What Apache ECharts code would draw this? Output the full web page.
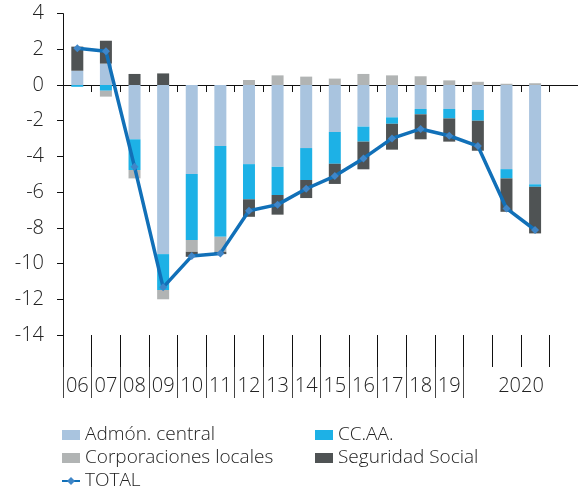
<!DOCTYPE html>
<html>
<head>
<meta charset="utf-8">
<script src="https://cdn.jsdelivr.net/npm/echarts@6/dist/echarts.min.js"></script>
<style>
  html, body { margin: 0; padding: 0; background: #fff; }
  #chart { width: 578px; height: 494px; }
</style>
</head>
<body>
<div id="chart"></div>
<script>
// categories (last slot is empty space at the right edge)
var categories = ['06', '07', '08', '09', '10', '11', '12', '13', '14', '15', '16', '17', '18', '19', '', '2020', '', ''];

// % PIB por subsector
var central = [0.8, 1.2, -3.04, -9.47, -4.99, -3.42, -4.43, -4.58, -3.53, -2.63, -2.33, -1.81, -1.34, -1.34, -1.40, -4.71, -5.56];
var ccaa = [-0.1, -0.32, -1.72, -2.01, -3.69, -5.08, -1.97, -1.58, -1.79, -1.78, -0.84, -0.36, -0.30, -0.53, -0.60, -0.52, -0.14];
var locales = [0, -0.33, -0.47, -0.52, -0.66, -0.84, 0.28, 0.54, 0.47, 0.36, 0.62, 0.54, 0.49, 0.26, 0.18, 0.07, 0.10];
var seguridad = [1.35, 1.28, 0.62, 0.65, -0.28, -0.13, -0.98, -1.10, -1.01, -1.13, -1.55, -1.45, -1.40, -1.30, -1.68, -1.87, -2.61];
var total = [2.06, 1.89, -4.58, -11.33, -9.58, -9.43, -7.04, -6.70, -5.81, -5.10, -4.11, -2.99, -2.46, -2.84, -3.42, -6.91, -8.12];

var FONT = '"Open Sans", sans-serif';

var chart = echarts.init(document.getElementById('chart'));

function barSeries(name, data, color) {
    return {
        name: name,
        type: 'bar',
        stack: 'total',
        barWidth: 12,
        data: data,
        itemStyle: { color: color },
        emphasis: { disabled: true }
    };
}

var legendText = { fontSize: 19, color: '#222', fontWeight: 300, lineHeight: 20 };

var option = {
    animation: false,
    textStyle: { fontFamily: FONT },
    grid: { left: 63, right: -7, top: 13.6, bottom: 159 },
    legend: [{
        orient: 'vertical',
        left: 61,
        top: 425,
        height: 90,
        padding: 0,
        itemWidth: 18,
        itemHeight: 10,
        itemGap: 3,
        textStyle: legendText,
        data: [
            { name: 'Admón. central', icon: 'rect' },
            { name: 'Corporaciones locales', icon: 'rect' },
            'TOTAL'
        ]
    }, {
        orient: 'vertical',
        left: 315,
        top: 425,
        height: 90,
        padding: 0,
        itemWidth: 18,
        itemHeight: 10,
        itemGap: 3,
        textStyle: legendText,
        data: [
            { name: 'CC.AA.', icon: 'rect' },
            { name: 'Seguridad Social', icon: 'rect' }
        ]
    }],
    xAxis: [{
        type: 'category',
        data: categories,
        position: 'bottom',
        axisLine: { show: true, onZero: true, lineStyle: { color: '#111', width: 1 } },
        axisTick: { show: true, length: 7, interval: 0, lineStyle: { color: '#111' } },
        axisLabel: { show: false }
    }, {
        type: 'category',
        data: categories,
        position: 'bottom',
        axisLine: { show: false, onZero: false },
        axisTick: { show: true, length: 32, interval: 0, lineStyle: { color: '#111' } },
        axisLabel: { show: false }
    }, {
        type: 'category',
        data: categories,
        position: 'bottom',
        offset: 32,
        axisLine: { show: false, onZero: false },
        axisTick: {
            show: true,
            length: 31,
            interval: function (i) { return i <= 14; },
            lineStyle: { color: '#444' }
        },
        axisLabel: {
            interval: 0,
            margin: 9,
            fontSize: 20,
            fontWeight: 300,
            color: '#222',
            formatter: function (v) {
                return v === '2020' ? '{r|' + v + '}' : v;
            },
            rich: { r: { fontSize: 20, fontWeight: 300, color: '#222', padding: [0, 0, 0, 29] } }
        }
    }],
    yAxis: {
        type: 'value',
        min: -14,
        max: 4,
        interval: 2,
        axisLine: { show: true, lineStyle: { color: '#111' } },
        axisTick: { show: true, length: 6, lineStyle: { color: '#111' } },
        splitLine: { show: false },
        axisLabel: { fontSize: 20, fontWeight: 300, color: '#222', margin: 19 }
    },
    series: [
        barSeries('Admón. central', central, '#a9c4df'),
        barSeries('CC.AA.', ccaa, '#1db1e6'),
        barSeries('Corporaciones locales', locales, '#b1b4b4'),
        barSeries('Seguridad Social', seguridad, '#4f5354'),
        {
            name: 'TOTAL',
            type: 'line',
            data: total,
            z: 5,
            symbol: 'diamond',
            symbolSize: 8,
            lineStyle: { color: '#1170b8', width: 3.5 },
            itemStyle: { color: '#3f86c8', borderWidth: 0 },
            emphasis: { disabled: true }
        }
    ]
};

chart.setOption(option);
</script>
</body>
</html>
